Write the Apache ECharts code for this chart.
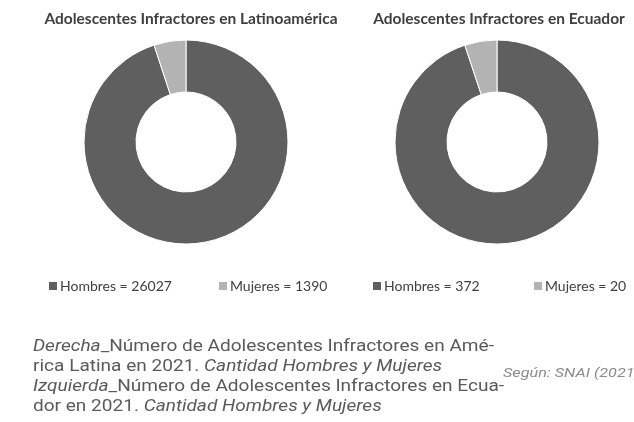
<!DOCTYPE html>
<html>
<head>
<meta charset="utf-8">
<script src="https://cdn.jsdelivr.net/npm/echarts@6/dist/echarts.min.js"></script>
<style>
  html, body { margin: 0; padding: 0; background: #fff; }
  #chart { width: 634px; height: 422px; }
</style>
</head>
<body>
<div id="chart"></div>
<script>
const sexos = ['Hombres', 'Mujeres'];
const latam = [26027, 1390];
const ecuador = [372, 20];
const titulos = ['Adolescentes Infractores en Latinoamérica', 'Adolescentes Infractores en Ecuador'];

const COLORS = ['#5f5f5f', '#b3b3b3'];

const myChart = echarts.init(document.getElementById('chart'));

const mkData = (vals) => vals.map((v, i) => ({
  name: sexos[i] + ' = ' + v,
  value: v,
  itemStyle: { color: COLORS[i] }
}));

const latamData = mkData(latam);
const ecuadorData = mkData(ecuador);

const legendPos = [42, 212, 366, 527];
const allNames = latamData.concat(ecuadorData).map(d => d.name);

const titleStyle = { fontFamily: 'Lato', fontSize: 15.5, fontWeight: 'bold', color: '#3f3f3f' };

const options = {
  animation: false,
  title: [
    { text: titulos[0], left: 186, top: 6, textAlign: 'center', textStyle: titleStyle },
    { text: titulos[1], left: 494, top: 6, textAlign: 'center', textStyle: titleStyle }
  ],
  legend: allNames.map((n, i) => ({
    data: [n],
    left: legendPos[i],
    top: 274,
    icon: 'rect',
    itemWidth: 10,
    itemHeight: 10,
    itemGap: 4,
    selectedMode: false,
    textStyle: { fontFamily: 'Lato', fontSize: 14, color: '#404040', padding: [0, 0, 0, -3] }
  })),
  series: [
    {
      type: 'pie',
      center: [186, 142],
      radius: [50, 102],
      startAngle: 90,
      label: { show: false },
      labelLine: { show: false },
      itemStyle: { borderColor: '#fff', borderWidth: 1 },
      silent: true,
      data: latamData
    },
    {
      type: 'pie',
      center: [497, 142],
      radius: [50, 102],
      startAngle: 90,
      label: { show: false },
      labelLine: { show: false },
      itemStyle: { borderColor: '#fff', borderWidth: 1 },
      silent: true,
      data: ecuadorData
    }
  ],
  graphic: [
    {
      type: 'text',
      x: 33,
      y: 337,
      scaleX: 1.19,
      style: {
        text: '{i|Derecha}_Número de Adolescentes Infractores en Amé-\nrica Latina en 2021. {i|Cantidad Hombres y Mujeres}\n{i|Izquierda}_Número de Adolescentes Infractores en Ecua-\ndor en 2021. {i|Cantidad Hombres y Mujeres}',
        font: '16px "Roboto"',
        fill: '#5a5a5a',
        lineHeight: 20,
        rich: {
          i: { fontStyle: 'italic', fontFamily: 'Roboto', fontSize: 16, fill: '#5a5a5a', lineHeight: 20 }
        }
      }
    },
    {
      type: 'text',
      x: 503,
      y: 367,
      scaleX: 1.2,
      style: {
        text: 'Según: SNAI (2021)',
        font: 'italic 13.5px "Roboto"',
        fill: '#8c8c8c'
      }
    }
  ]
};

options && myChart.setOption(options);
</script>
</body>
</html>
